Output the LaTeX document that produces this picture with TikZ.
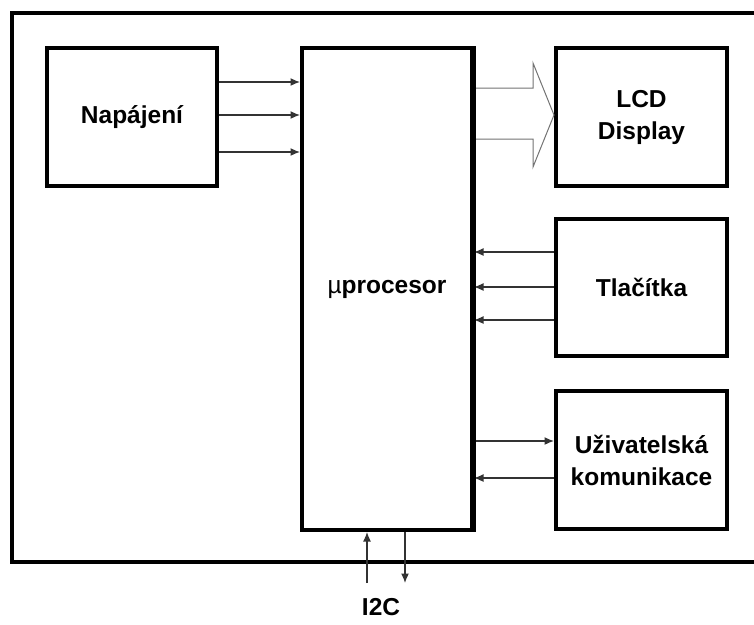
\documentclass[tikz,border=0pt]{standalone}
\usepackage{fontspec}
\setmainfont{Liberation Sans}
\usetikzlibrary{arrows.meta}
\begin{document}
\begin{tikzpicture}[x=1pt,y=-1pt,
  blk/.style={draw=black,line width=4pt,fill=white,align=center,
    font=\fontsize{24.5}{32}\selectfont\bfseries,inner sep=0pt},
  sig/.style={draw=black!80,line width=1.3pt,-{Latex[length=9.5pt,width=8pt]}},
  bus/.style={draw=black!55,line width=1pt,fill=white,line join=miter}]
\useasboundingbox (0,0) rectangle (754,624);
\clip (0,0) rectangle (754,624);
\draw[line width=4pt] (780,13) -- (12,13) -- (12,562) -- (780,562);
\node[blk,minimum width=170pt,minimum height=138pt] (nap) at (132,117) {Napájení};
\node[blk,minimum width=170pt,minimum height=482pt] (cpu) at (387,289) {{\mdseries µ}procesor};
\node[blk,minimum width=171pt,minimum height=138pt] (lcd) at (641.5,117) {LCD\\Display};
\node[blk,minimum width=171pt,minimum height=137pt] (btn) at (641.5,287.5) {Tlačítka};
\node[blk,minimum width=171pt,minimum height=138pt] (usr) at (641.5,460) {Uživatelská\\komunikace};
\node[font=\fontsize{24.5}{32}\selectfont\bfseries] (i2c) at (381,607) {I2C};
% power arrows
\foreach \y in {82,115,152}
  \draw[sig] (nap.east |- 0,\y) -- (cpu.west |- 0,\y);
% button arrows
\foreach \y in {252,287,320}
  \draw[sig] (btn.west |- 0,\y) -- (cpu.east |- 0,\y);
% user comm
\draw[sig] (cpu.east |- 0,441) -- (usr.west |- 0,441);
\draw[sig] (usr.west |- 0,478) -- (cpu.east |- 0,478);
% bus arrow to LCD
\coordinate (bs) at (cpu.east |- 0,115);
\draw[bus] (bs |- 0,88) -- (533,88) -- (533,63) -- (lcd.west |- 0,115) -- (533,167) -- (533,139) -- (bs |- 0,139);
\draw[line width=4pt] (cpu.north east) -- (cpu.south east);
% I2C
\coordinate (i2cin) at (367,583);
\coordinate (i2cout) at (405,583);
\draw[sig] (i2cin) -- (cpu.south -| i2cin);
\draw[sig] (cpu.south -| i2cout) -- (i2cout);
\end{tikzpicture}
\end{document}
